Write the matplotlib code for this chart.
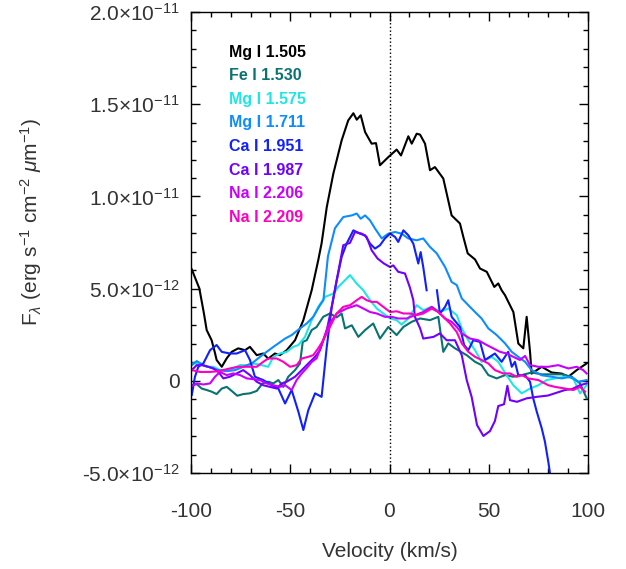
import matplotlib.pyplot as plt
import numpy as np

plt.rcParams['font.family'] = ['Liberation Sans', 'DejaVu Sans']
plt.rcParams['mathtext.fontset'] = 'custom'
plt.rcParams['mathtext.rm'] = 'Liberation Sans'
plt.rcParams['mathtext.it'] = 'Liberation Sans:italic'
plt.rcParams['mathtext.bf'] = 'Liberation Sans:bold'
plt.rcParams['axes.unicode_minus'] = False

# velocities (km/s) and fluxes (units of 1e-12 erg/s/cm2/um)
v_mg1505 = [-99.6, -95.8, -93.5, -92.1, -89.6, -87.9, -87.1, -84.5, -82.0, -79.5, -76.2, -72.8, -70.3,
            -66.9, -63.6, -61.1, -57.7, -55.2, -51.8, -47.6, -43.4, -39.2, -35.9, -34.2, -31.6, -28.3,
            -24.1, -20.8, -18.2, -16.5, -14.5, -12.3, -9.0, -6.8, -4.8, -0.6, 3.6, 5.8, 9.5, 11.2, 13.7,
            15.4, 17.9, 20.4, 22.9, 27.1, 31.3, 35.5, 37.2, 39.4, 43.1, 45.6, 49.0, 52.8, 54.8, 56.5,
            58.2, 62.4, 64.9, 67.4, 69.1, 70.8, 71.6, 76.7, 81.7, 86.8, 90.1, 94.3, 99.3]
f_mg1505 = [6.04, 5.01, 3.66, 2.75, 2.20, 1.50, 1.13, 0.76, 1.22, 1.57, 1.76, 1.66, 1.84, 1.39, 1.48,
            1.20, 1.48, 1.39, 1.66, 2.20, 3.29, 4.91, 6.54, 7.46, 9.42, 11.23, 13.04, 14.12, 14.51,
            14.16, 14.40, 13.49, 12.86, 12.89, 11.69, 12.13, 12.54, 12.22, 13.26, 12.86, 13.40, 13.35,
            12.86, 11.42, 11.59, 10.97, 8.97, 8.53, 7.80, 6.91, 6.58, 6.09, 5.91, 5.09, 5.28, 4.91,
            4.64, 3.73, 2.02, 1.76, 3.47, 1.57, 0.39, 0.76, 0.45, 0.39, 0.22, 0.58, 0.94]

v_fe1530 = [-99.6, -97.1, -94.6, -92.1, -89.6, -87.1, -84.5, -82.0, -79.5, -76.7, -73.7, -70.3, -66.9,
            -63.9, -61.1, -58.5, -56.0, -53.5, -51.0, -47.6, -45.1, -43.7, -41.7, -39.2, -36.7, -33.4,
            -30.0, -26.6, -24.1, -22.4, -19.0, -15.7, -12.3, -8.2, -4.8, -0.6, 3.6, 7.0, 11.2, 15.4,
            20.4, 24.6, 27.1, 29.6, 33.0, 38.9, 43.1, 46.4, 49.8, 54.0, 58.2, 62.4, 66.6, 71.6, 76.7,
            81.7, 86.8, 91.8, 96.0, 99.3]
f_fe1530 = [-0.24, -0.18, -0.42, -0.50, -0.59, -0.72, -0.42, -0.33, -0.55, -0.81, -0.72, -0.68, -0.55,
            -0.14, -0.05, -0.14, 0.04, -0.33, 0.22, 0.58, 0.94, 2.11, 2.20, 2.75, 2.92, 3.47, 3.65,
            3.44, 3.65, 2.84, 3.01, 2.38, 2.75, 3.11, 2.29, 2.92, 2.48, 2.92, 3.20, 3.38, 3.29, 3.47,
            1.57, 2.03, 1.76, 1.39, 1.03, 0.85, 0.31, 0.13, 0.31, 0.22, 0.31, 0.45, 0.35, 0.35, 0.35,
            0.22, -0.14, -0.94]

v_mg1575 = [-99.6, -95.5, -92.1, -88.8, -85.4, -82.0, -78.7, -75.3, -71.9, -68.6, -64.4, -61.1, -58.5,
            -55.2, -51.8, -48.5, -45.9, -42.6, -39.2, -35.9, -32.5, -28.3, -25.8, -22.4, -19.9, -16.5,
            -13.2, -9.8, -6.4, -3.1, 0.3, 3.6, 6.1, 9.5, 13.7, 17.0, 21.3, 25.4, 29.6, 33.9, 36.4, 39.7,
            43.1, 46.4, 51.5, 54.8, 59.0, 62.4, 66.6, 70.8, 75.0, 79.2, 83.4, 88.4, 92.6, 96.0, 99.3]
f_mg1575 = [0.94, 0.94, 0.76, 0.76, 0.58, 0.58, 0.67, 0.85, 0.85, 0.94, 0.85, 0.76, 1.30, 1.48, 1.57,
            1.84, 1.94, 2.38, 3.29, 4.01, 4.55, 4.73, 5.09, 5.45, 5.73, 5.27, 4.91, 4.37, 3.92, 3.65,
            3.38, 3.29, 3.05, 3.38, 4.10, 3.83, 4.01, 3.73, 3.92, 3.56, 2.84, 2.20, 1.66, 1.03, 1.30,
            1.03, 0.30, -0.24, -0.68, -0.42, -0.24, 0.04, 0.13, 0.22, 0.13, -0.68, -0.24]

v_mg1711 = [-99.6, -97.1, -93.8, -89.6, -86.2, -82.0, -77.8, -73.7, -69.4, -65.2, -61.9, -58.5, -56.0,
            -52.6, -49.3, -45.1, -41.7, -38.4, -35.0, -33.3, -31.0, -27.5, -23.3, -19.0, -16.5, -14.5,
            -12.3, -9.8, -7.3, -3.9, -0.6, 2.8, 6.1, 9.5, 13.7, 17.0, 20.4, 23.8, 28.0, 31.3, 33.9,
            36.4, 39.7, 43.1, 46.4, 49.8, 54.0, 58.2, 61.6, 64.9, 68.3, 71.6, 76.7, 81.7, 86.8, 90.9,
            95.1, 99.3]
f_mg1711 = [0.85, 1.07, 0.85, 0.70, 0.58, 0.52, 0.58, 0.76, 0.94, 1.30, 1.57, 1.84, 2.03, 2.29, 2.48,
            2.84, 3.11, 3.47, 4.10, 4.37, 6.76, 8.27, 8.88, 8.97, 9.07, 8.79, 8.97, 8.70, 8.26, 7.72,
            7.98, 8.07, 7.98, 7.72, 7.62, 7.72, 7.26, 6.91, 6.17, 5.36, 5.19, 4.47, 4.10, 3.73, 3.38,
            2.84, 2.48, 2.03, 1.57, 1.30, 1.03, 0.58, 0.30, 0.22, 0.13, 0.22, -0.05, 0.04]

v_ca1951 = [-99.6, -98.0, -96.3, -93.8, -90.4, -87.1, -84.5, -80.4, -77.0, -72.8, -70.3, -67.8, -63.6,
            -59.3, -56.0, -52.6, -49.3, -45.9, -43.4, -40.9, -37.5, -34.2, -31.6, -29.1, -26.6, -24.1,
            -21.6, -18.2, -14.9, -12.3, -9.8, -7.3, -4.8, -2.3, 0.3, 2.8, 4.4, 7.0, 9.5, 12.0, 14.5,
            15.7, 17.0, 18.7, 21.0, 23.9, 25.4, 28.0, 29.6, 31.3, 35.5, 37.6, 39.7, 42.2, 45.6, 48.1,
            53.1, 56.5, 59.8, 61.6, 63.2, 64.9, 68.3, 70.8, 72.4, 74.2, 76.7, 78.3, 80.0, 81.4, 82.9,
            84.5]
f_ca1951 = [-0.77, 0.22, 0.76, 0.94, 1.66, 1.94, 1.57, 1.48, 1.48, 1.66, 1.13, 0.22, 0.04, -0.24,
            -0.42, -1.23, -0.50, -1.68, -2.67, -1.59, -0.68, -0.87, 1.84, 4.01, 5.45, 6.72, 7.44, 8.16,
            7.98, 7.89, 7.44, 7.17, 7.35, 7.72, 7.98, 7.80, 7.53, 8.16, 7.89, 7.44, 6.36, 6.98, 6.17,
            4.91, np.nan, 4.91, 3.65, 4.01, 4.37, 3.47, 2.92, 1.94, 1.66, 2.20, 2.11, 1.13, 1.48, 1.03,
            1.57, 0.76, 1.03, 0.30, 0.30, -0.05, -0.95, -1.68, -2.58, -3.30, -4.39, -5.40, -5.05,
            -5.90]

v_ca1987 = [-99.6, -97.1, -94.6, -91.3, -88.8, -86.2, -83.7, -80.4, -77.0, -73.7, -70.3, -66.9, -63.6,
            -60.2, -56.8, -54.3, -51.8, -47.6, -44.2, -40.9, -37.5, -35.0, -31.6, -29.1, -26.6, -23.3,
            -19.9, -17.4, -14.0, -11.5, -9.0, -6.0, -2.8, 0.3, 1.9, 4.4, 7.8, 10.3, 12.0, 12.8, 15.4,
            17.0, 22.1, 25.4, 28.8, 33.0, 36.4, 38.9, 41.4, 44.1, 47.3, 50.6, 53.1, 54.8, 57.7, 59.4,
            60.7, 64.2, 69.1, 74.2, 79.8, 84.4, 88.4, 91.9, 96.0, 99.3]
f_ca1987 = [0.58, 0.85, 0.85, 0.76, 0.67, 0.48, 0.13, 0.22, 0.40, 0.58, 0.31, -0.05, -0.24, -0.33,
            -0.42, -0.14, -0.05, 0.22, 0.58, 0.94, 1.30, 1.66, 2.75, 4.01, 5.45, 7.35, 7.48, 8.07, 7.98,
            7.80, 7.08, 6.63, 6.36, 6.17, 6.26, 5.91, 5.82, 5.05, 4.37, 3.47, 2.85, 2.29, 2.38, 2.57,
            2.20, 2.20, 1.39, 0.04, -0.88, -2.40, -2.99, -2.73, -2.18, -1.37, -1.27, -0.27, -1.05,
            -1.14, -0.95, -0.87, -0.80, -0.64, -0.50, -0.45, -0.24, -0.14]

v_na2206 = [-99.6, -97.1, -93.8, -90.4, -87.9, -85.4, -82.0, -78.7, -75.3, -71.9, -68.6, -65.2, -61.9,
            -58.5, -55.2, -52.6, -49.3, -46.8, -44.2, -41.7, -39.2, -36.7, -33.4, -30.8, -26.6, -21.6,
            -16.5, -13.2, -9.8, -6.4, -2.3, 1.1, 4.4, 8.7, 12.8, 17.0, 21.3, 24.6, 28.0, 31.3, 33.9,
            36.4, 40.6, 44.7, 49.0, 52.3, 55.7, 59.0, 62.4, 65.7, 68.3, 70.8, 75.0, 80.0, 85.0, 90.1,
            94.3, 97.6, 99.3]
f_na2206 = [-0.29, -0.14, -0.20, -0.14, 0.22, 0.48, 0.31, 0.40, 0.31, 0.13, 0.09, 0.04, -0.14, -0.24,
            -0.33, -0.24, -0.50, 0.04, 0.40, 0.69, 1.02, 1.22, 2.20, 3.01, 3.65, 3.92, 4.10, 3.92,
            3.73, 3.65, 3.47, 3.47, 3.38, 3.38, 3.56, 3.73, 4.01, 3.73, 3.38, 3.20, 2.92, 2.57, 2.29,
            2.20, 1.94, 1.76, 1.57, 1.48, 1.30, 1.13, 1.35, 0.85, 0.76, 0.76, 0.85, 0.67, 0.76, 0.58,
            0.40]

v_na2209 = [-99.6, -95.5, -90.4, -86.2, -80.4, -76.2, -71.9, -66.9, -63.6, -61.1, -56.8, -53.5, -50.1,
            -46.8, -44.2, -40.9, -38.4, -35.9, -33.4, -30.0, -26.6, -23.3, -19.9, -16.5, -14.0, -11.5,
            -9.0, -6.4, -3.1, 0.3, 3.6, 7.0, 10.3, 13.7, 17.0, 21.3, 24.6, 27.1, 30.5, 33.9, 36.4,
            39.7, 43.1, 46.4, 49.8, 53.1, 57.3, 60.7, 64.1, 66.6, 69.9, 75.0, 80.0, 83.4, 88.4, 92.6,
            96.0, 98.5]
f_na2209 = [0.58, 0.48, 0.48, 0.52, 0.67, 0.76, 0.76, 0.76, 1.03, 1.21, 1.21, 1.03, 0.76, 0.85, 1.21,
            1.30, 1.39, 1.76, 2.20, 2.92, 3.65, 4.01, 4.10, 4.37, 4.55, 4.37, 4.28, 4.28, 4.01, 3.73,
            3.77, 3.65, 3.65, 3.56, 3.65, 3.92, 3.73, 3.47, 3.11, 2.64, 2.03, 1.57, 1.30, 1.13, 0.94,
            0.58, 0.40, 0.40, 0.22, 0.31, 0.13, 0.04, -0.24, -0.33, -0.42, -0.50, -0.33, -0.59]

labels = ['Mg I 1.505', 'Fe I 1.530', 'Mg I 1.575', 'Mg I 1.711',
          'Ca I 1.951', 'Ca I 1.987', 'Na I 2.206', 'Na I 2.209']
colors = ['#000000', '#0a7272', '#1ee6e6', '#0c8cff',
          '#1020ff', '#7000ff', '#c800ff', '#ff00c0']
series = [(v_mg1505, f_mg1505), (v_fe1530, f_fe1530), (v_mg1575, f_mg1575), (v_mg1711, f_mg1711),
          (v_ca1951, f_ca1951), (v_ca1987, f_ca1987), (v_na2206, f_na2206), (v_na2209, f_na2209)]

yticks = [-5e-12, 0, 5e-12, 1e-11, 1.5e-11, 2e-11]
yticklabels = ['-5.0\u00d710$^{-12}$', '0', '5.0\u00d710$^{-12}$',
               '1.0\u00d710$^{-11}$', '1.5\u00d710$^{-11}$', '2.0\u00d710$^{-11}$']

fig = plt.figure(figsize=(6.26, 5.69), dpi=100)
ax = fig.add_axes([191 / 626, 1 - 473 / 569, 397 / 626, 461 / 569])

for (v, f), c in zip(series, colors):
    ax.plot(v, np.array(f) * 1e-12, color=c, lw=1.5)

ax.axvline(0, color='black', ls=':', lw=1.0)

ax.set_xlim(-100, 100)
ax.set_ylim(-5e-12, 2e-11)
ax.set_xticks([-100, -50, 0, 50, 100])
ax.set_xticklabels(['-100', '-50', '0', '50', '100'])
ax.set_xticks(np.arange(-100, 101, 10), minor=True)
ax.set_yticks(yticks)
ax.set_yticklabels(yticklabels)
ax.set_yticks(np.arange(-5e-12, 2.01e-11, 1e-12), minor=True)
ax.tick_params(which='both', direction='in', top=True, right=True, width=1.0, colors='black',
               labelcolor='#333333', labelsize=15)
ax.tick_params(which='major', length=6.5)
ax.tick_params(which='minor', length=3.5)
ax.tick_params(axis='x', which='major', pad=21)
ax.tick_params(axis='y', which='major', pad=8)
for s in ax.spines.values():
    s.set_linewidth(1.0)

ax.set_xlabel('Velocity (km/s)', fontsize=15, color='#333333', labelpad=15)
fig.text(31 / 626, 1 - 222 / 569,
         'F$_\\lambda$ (erg s$^{-1}$ cm$^{-2}$ $\\mu$m$^{-1}$)',
         rotation=90, ha='center', va='center', fontsize=15, color='#333333')

for i, (lab, c) in enumerate(zip(labels, colors)):
    ax.text(0.096, 0.913 - i * 0.0512, lab, color=c, fontsize=11.5, fontweight='bold',
            ha='left', va='center', transform=ax.transAxes)

fig.savefig('out.png', dpi=100)
